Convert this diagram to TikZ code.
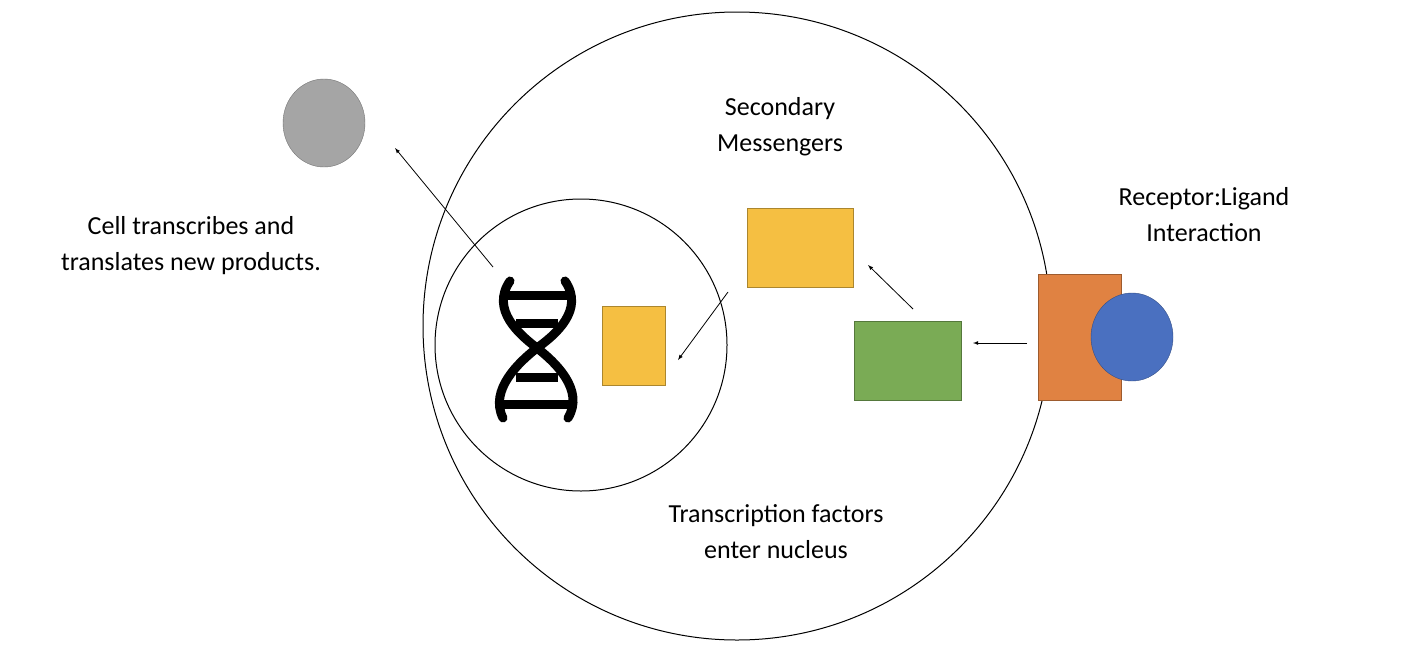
\documentclass[tikz,border=0pt]{standalone}
\usepackage{fontspec}
\setmainfont{Carlito}
\usetikzlibrary{shapes.geometric}
\definecolor{cgray}{HTML}{A5A5A5}
\definecolor{cyel}{HTML}{F5BF42}
\definecolor{cgrn}{HTML}{7AAB55}
\definecolor{cora}{HTML}{E08242}
\definecolor{cblu}{HTML}{4A70C0}
\begin{document}
\begin{tikzpicture}[x=1pt,y=-1pt,
  lbl/.style={align=center,font=\fontsize{26}{36}\selectfont},
  arr/.style={-latex,line width=0.8pt},
  fbox/.style={draw=#1!70!black,fill=#1,inner sep=0pt},
  dna/.style={line width=9pt,line cap=round}]
\useasboundingbox (0,0) rectangle (1420,656);
\node[circle,draw,line width=1pt,minimum size=628pt,inner sep=0pt] (cell) at (737,326) {};
\node[circle,draw,line width=1pt,minimum size=292pt,inner sep=0pt] (nuc) at (581,345) {};
\node[ellipse,fbox=cgray,minimum width=82pt,minimum height=88pt] (prod) at (324,123) {};
\node[fbox=cyel,minimum width=106pt,minimum height=79pt] (sm) at (800,247.5) {};
\node[fbox=cyel,minimum width=63pt,minimum height=79pt] (tf) at (633.5,345.5) {};
\node[fbox=cgrn,minimum width=107pt,minimum height=79pt] (gr) at (907.5,360.5) {};
\node[fbox=cora,minimum width=83pt,minimum height=126pt] (rec) at (1079.5,337) {};
\node[ellipse,fbox=cblu,minimum width=82pt,minimum height=88pt] (lig) at (1132,337) {};
\coordinate (a1s) at (1027,343); \coordinate (a1e) at (973,343);
\coordinate (a2s) at (913,309); \coordinate (a2e) at (868,265);
\coordinate (a3s) at (728,292); \coordinate (a3e) at (678,360);
\coordinate (a4s) at (493,267); \coordinate (a4e) at (395,148);
\draw[arr] (a1s) -- (a1e);
\draw[arr] (a2s) -- (a2e);
\draw[arr] (a3s) -- (a3e);
\draw[arr] (a4s) -- (a4e);
\draw[dna] (510,281) .. controls (490,310) and (520,335) .. (537,348) .. controls (555,362) and (585,390) .. (568,418);
\draw[dna] (565,281) .. controls (585,310) and (555,335) .. (537,348) .. controls (519,362) and (489,390) .. (503,418);
\draw[dna,line cap=butt] (503,295) -- (570,295);
\draw[dna,line cap=butt] (516,323) -- (558,323);
\draw[dna,line cap=butt] (516,377) -- (558,377);
\draw[dna,line cap=butt] (500,404) -- (574,404);
\node[lbl] (t1) at (780,127) {Secondary\\Messengers};
\node[lbl] (t2) at (1204,215) {Receptor:Ligand\\Interaction};
\node[lbl] (t3) at (191,246) {Cell transcribes and\\translates new products.};
\node[lbl] (t4) at (776,532) {Transcription factors\\enter nucleus};
\end{tikzpicture}
\end{document}
